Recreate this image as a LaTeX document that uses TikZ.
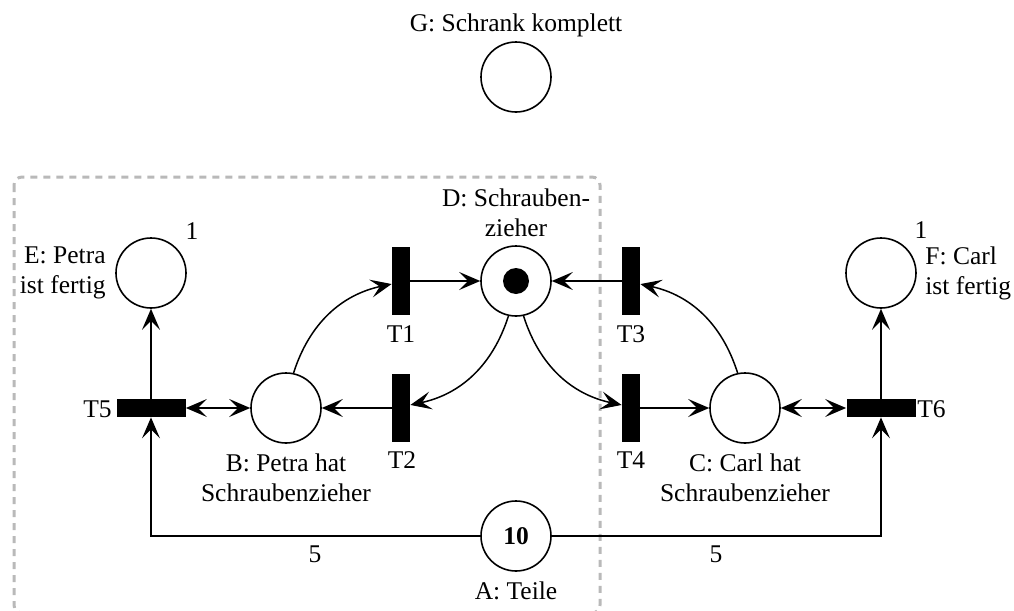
\documentclass[tikz,border=0pt]{standalone}
\usepackage{fontspec}
\setmainfont{Liberation Serif}
\usetikzlibrary{arrows.meta}
\begin{document}
\begin{tikzpicture}[x=0.5pt,y=-0.5pt,
  every node/.style={font=\fontsize{12.75}{15}\selectfont},
  place/.style={circle,draw,line width=0.8pt,minimum size=35pt,inner sep=0pt},
  vbar/.style={rectangle,fill=black,minimum width=9pt,minimum height=34pt,inner sep=0pt},
  hbar/.style={rectangle,fill=black,minimum width=34.5pt,minimum height=9pt,inner sep=0pt},
  tip/.tip={Stealth[length=10.5pt,width=9pt,inset=4.5pt]},
  arc/.style={line width=0.75pt,-tip},
  biarc/.style={line width=0.75pt,tip-tip},
  lbl/.style={inner sep=0pt},
  group/.style={draw=gray!55,line width=1.5pt,dash pattern=on 3.5pt off 3pt,rounded corners=4pt},
]
\useasboundingbox (0,0) rectangle (1014,611);

% subsystem boundary
\draw[group] (14,177) rectangle (600,613);

% places
\node[place] (G) at (516,77) {};
\node[place] (E) at (151,273) {};
\node[place] (D) at (516,281) {};
\node[place] (F) at (881,273) {};
\node[place] (B) at (286,408) {};
\node[place] (C) at (745,408) {};
\node[place] (A) at (516,536) {\bfseries 10};
\node[circle,fill=black,minimum size=13pt,inner sep=0pt] (tok) at (D) {};

% transitions
\node[vbar] (T1) at (401,281) {};
\node[vbar] (T2) at (401,408) {};
\node[vbar] (T3) at (631,281) {};
\node[vbar] (T4) at (631,408) {};
\node[hbar] (T5) at (151,408) {};
\node[hbar] (T6) at (881,408) {};

% labels
\node[lbl,anchor=base] (lG) at (516,31) {G: Schrank komplett};
\node[lbl,anchor=east,align=right] (lE) at (106,273) {E: Petra\\ist fertig};
\node[lbl,anchor=west,align=left] (lF) at (925,273) {F: Carl\\ist fertig};
\node[lbl,align=center] (lD) at (516,213) {D: Schrauben-\\zieher};
\node[lbl,align=center] (lB) at (286,478) {B: Petra hat\\Schraubenzieher};
\node[lbl,align=center] (lC) at (745,478) {C: Carl hat\\Schraubenzieher};
\node[lbl,anchor=base] (lA) at (516,599) {A: Teile};
\node[lbl,anchor=base] (kE) at (192,239) {1};
\node[lbl,anchor=base] (kF) at (921,238) {1};
\node[lbl,anchor=base] (lT1) at (401,342) {T1};
\node[lbl,anchor=base] (lT2) at (402,468) {T2};
\node[lbl,anchor=base] (lT3) at (631,342) {T3};
\node[lbl,anchor=base] (lT4) at (631,468) {T4};
\node[lbl,anchor=base east] (lT5) at (112,417) {T5};
\node[lbl,anchor=base west] (lT6) at (917,417) {T6};
\node[lbl,anchor=base] (w5) at (315,562) {5};
\node[lbl,anchor=base] (w6) at (716,562) {5};

% arcs
\draw[arc] (T1) -- (D);
\draw[arc] (T3) -- (D);
\draw[arc] (T2) -- (B);
\draw[arc] (T4) -- (C);
\draw[arc] (B) to[bend left=30] (T1);
\draw[arc] (C) to[bend right=30] (T3);
\draw[arc] (D) to[bend left=30] (T2);
\draw[arc] (D) to[bend right=30] (T4);
\draw[biarc] (T5) -- (B);
\draw[biarc] (C) -- (T6);
\draw[arc] (T5) -- (E);
\draw[arc] (T6) -- (F);
\draw[arc] (A.west) -| (T5.south);
\draw[arc] (A.east) -| (T6.south);
\end{tikzpicture}
\end{document}
